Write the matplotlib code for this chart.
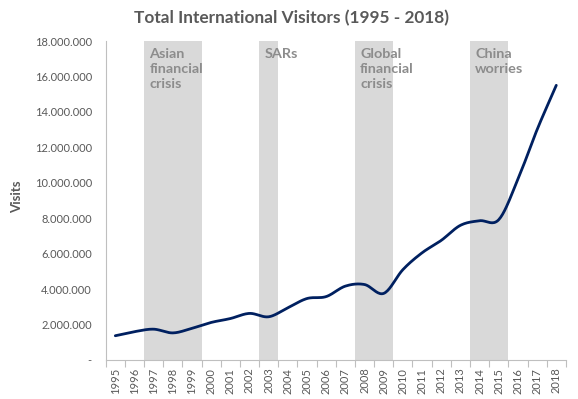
import numpy as np
import matplotlib
matplotlib.use("Agg")
import matplotlib.pyplot as plt
from matplotlib.ticker import FuncFormatter

years = list(range(1995, 2019))
visitors = [1.37, 1.60, 1.74, 1.53, 1.79, 2.12, 2.34, 2.63, 2.44, 2.95,
            3.47, 3.58, 4.17, 4.26, 3.76, 5.10, 6.05, 6.75, 7.60, 7.86,
            7.92, 10.20, 13.00, 15.50]
visitors = [v * 1e6 for v in visitors]

events = ["Asian\nfinancial\ncrisis", "SARs", "Global\nfinancial\ncrisis", "China\nworries"]
event_start = [1997, 2003, 2008, 2014]
event_end = [1999, 2003, 2009, 2015]

FONT = ["Lato", "DejaVu Sans"]
plt.rcParams['font.family'] = FONT

def catmull_rom(x, y, n=20):
    x = np.asarray(x, float); y = np.asarray(y, float)
    px = np.concatenate([[2*x[0]-x[1]], x, [2*x[-1]-x[-2]]])
    py = np.concatenate([[2*y[0]-y[1]], y, [2*y[-1]-y[-2]]])
    xs, ys = [], []
    t = np.linspace(0, 1, n, endpoint=False)
    for i in range(1, len(px)-2):
        def cr(a0, a1, a2, a3):
            return 0.5*((2*a1) + (-a0+a2)*t + (2*a0-5*a1+4*a2-a3)*t**2 + (-a0+3*a1-3*a2+a3)*t**3)
        xs.append(cr(px[i-1], px[i], px[i+1], px[i+2]))
        ys.append(cr(py[i-1], py[i], py[i+1], py[i+2]))
    xs.append([x[-1]]); ys.append([y[-1]])
    return np.concatenate(xs), np.concatenate(ys)

fig = plt.figure(figsize=(5.78, 3.99), dpi=100)
ax = fig.add_axes([0.1829, 0.0977, 0.979-0.1829, 0.7995])

idx = np.arange(len(years))
for lab, s, e in zip(events, event_start, event_end):
    i0 = years.index(s) - 0.5
    i1 = years.index(e) + 0.5
    ax.axvspan(i0, i1, color="#d9d9d9", lw=0, zorder=0)
    ax.text(i0 + 0.27, 17.62e6, lab, ha="left", va="top", fontsize=10.4,
            fontweight="bold", color="#8c8c8c", linespacing=1.32, zorder=1)

sx, sy = catmull_rom(idx, visitors)
ax.plot(sx, sy, color="#002060", lw=2.0, zorder=3, solid_capstyle="round")

ax.set_xlim(-0.5, len(years) - 0.5)
ax.set_ylim(0, 18e6)
ax.set_yticks(np.arange(0, 18e6 + 1, 2e6))

def fmt(v, pos):
    if v == 0:
        return "-"
    return f"{int(v):,}".replace(",", ".")
ax.yaxis.set_major_formatter(FuncFormatter(fmt))
ax.tick_params(axis="y", length=0, pad=10, labelsize=8.0, labelcolor="#595959")

ax.set_xticks(idx)
ax.set_xticklabels([str(y) for y in years], rotation=90, fontsize=8.0, color="#595959")
ax.set_xticks(np.arange(-0.5, len(years) + 0.5, 1), minor=True)
ax.tick_params(axis="x", which="major", length=0, pad=5.5)
ax.tick_params(axis="x", which="minor", length=5, color="#bfbfbf", width=0.8)

for sp in ["top", "right"]:
    ax.spines[sp].set_visible(False)
for sp in ["left", "bottom"]:
    ax.spines[sp].set_color("#bfbfbf")
    ax.spines[sp].set_linewidth(0.8)

ax.set_ylabel("Visits", fontsize=9.5, fontweight="bold", color="#595959")
ax.yaxis.set_label_coords(-0.1786, 0.511)
fig.text(0.5035, 0.955, "Total International Visitors (1995 - 2018)", ha="center", va="center",
         fontsize=12.4, fontweight="bold", color="#595959")

fig.savefig("out.png", dpi=100)
